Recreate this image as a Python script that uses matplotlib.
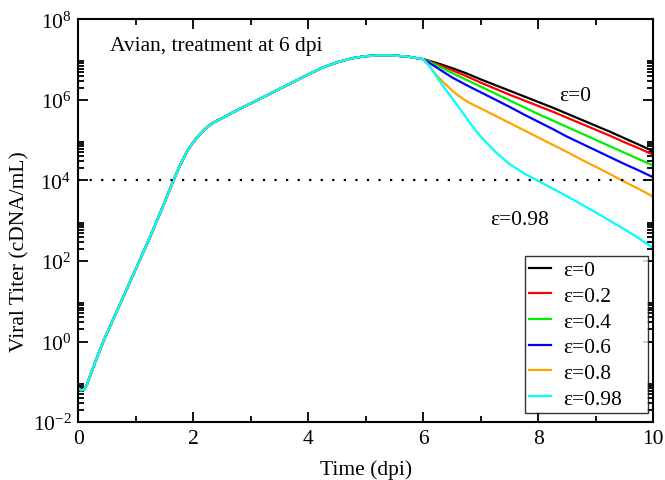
#!/usr/bin/env python3
"""
Viral titer vs time, avian model, antiviral treatment started at 6 dpi.
One shared growth curve up to 6 dpi, then one branch per efficacy eps.
"""

import numpy as np
import matplotlib
matplotlib.use("Agg")
import matplotlib.pyplot as plt
from matplotlib.ticker import FixedLocator, NullFormatter

# ==============================
# Data (log10 titer)
# ==============================
t_pre = [0.0, 0.05, 0.1, 0.15, 0.2, 0.3, 0.435, 0.6, 0.78, 1.0, 1.25, 1.5,
         1.65, 1.75, 1.83, 1.9, 2.0, 2.1, 2.2, 2.32, 2.52, 2.81, 3.0, 3.28,
         3.5, 3.75, 4.0, 4.25, 4.5, 4.75, 5.0, 5.25, 5.5, 5.75, 6.0]
log_pre = [-1.16, -1.21, -1.19, -1.07, -0.87, -0.49, 0.0, 0.53, 1.10, 1.80,
           2.60, 3.45, 3.98, 4.31, 4.55, 4.74, 4.95, 5.12, 5.27, 5.41, 5.56,
           5.78, 5.91, 6.11, 6.27, 6.45, 6.63, 6.80, 6.93, 7.03, 7.085,
           7.105, 7.10, 7.07, 7.01]

t_post = [6.0, 6.25, 6.5, 6.75, 7.0, 7.25, 7.5, 7.75, 8.0, 8.25, 8.5, 8.75,
          9.0, 9.25, 9.5, 9.75, 10.0]
log_eps0 = [7.01, 6.91, 6.79, 6.66, 6.51, 6.37, 6.23, 6.09, 5.95, 5.81,
            5.66, 5.51, 5.36, 5.21, 5.05, 4.89, 4.73]
log_eps02 = [7.01, 6.88, 6.74, 6.59, 6.43, 6.28, 6.13, 5.99, 5.85, 5.71,
             5.56, 5.41, 5.26, 5.11, 4.95, 4.80, 4.64]
log_eps04 = [7.01, 6.85, 6.67, 6.50, 6.33, 6.16, 5.99, 5.82, 5.65, 5.49,
             5.33, 5.17, 5.01, 4.85, 4.69, 4.53, 4.37]
log_eps06 = [7.01, 6.79, 6.56, 6.37, 6.19, 6.01, 5.83, 5.64, 5.46, 5.28,
             5.09, 4.92, 4.75, 4.58, 4.41, 4.25, 4.08]

t_post_fine = [6.0, 6.1, 6.2, 6.3, 6.4, 6.5, 6.6, 6.7, 6.8, 6.9, 7.0, 7.25,
               7.5, 7.75, 8.0, 8.25, 8.5, 8.75, 9.0, 9.25, 9.5, 9.75, 10.0]
log_eps08 = [7.01, 6.85, 6.67, 6.51, 6.37, 6.24, 6.12, 6.02, 5.93, 5.86,
             5.79, 5.61, 5.43, 5.25, 5.07, 4.89, 4.71, 4.52, 4.34, 4.16,
             3.97, 3.79, 3.60]
log_eps098 = [7.01, 6.86, 6.65, 6.44, 6.24, 6.05, 5.86, 5.66, 5.46, 5.27,
              5.09, 4.72, 4.41, 4.18, 3.99, 3.80, 3.61, 3.41, 3.21, 3.00,
              2.79, 2.57, 2.33]

eps_labels = ["ε=0", "ε=0.2", "ε=0.4", "ε=0.6", "ε=0.8", "ε=0.98"]
eps_colors = ["black", "#ff0000", "#00ee00", "#0000ff", "#ffa500", "#00ffff"]

threshold = 1e4

# ==============================
# Style
# ==============================
plt.rcParams.update({
    "font.family": ["Liberation Serif", "DejaVu Serif"],
    "mathtext.fontset": "custom",
    "mathtext.rm": "Liberation Serif",
    "font.size": 15.5,
    "axes.linewidth": 1.5,
})


def main():
    fig = plt.figure(figsize=(6.65, 4.81), dpi=100)
    ax = fig.add_axes([0.1177, 0.1202, 0.8643, 0.8376])

    branches = [
        (t_post, log_eps0),
        (t_post, log_eps02),
        (t_post, log_eps04),
        (t_post, log_eps06),
        (t_post_fine, log_eps08),
        (t_post_fine, log_eps098),
    ]

    for (tb, lb), lab, col in zip(branches, eps_labels, eps_colors):
        t_all = np.concatenate([t_pre, tb[1:]])
        y_all = 10.0 ** np.concatenate([log_pre, lb[1:]])
        ax.plot(t_all, y_all, color=col, lw=1.6, label=lab,
                solid_joinstyle="round")

    ax.axhline(threshold, color="black", lw=1.6, linestyle=(0, (1, 4.2)))

    ax.set_yscale("log")
    ax.set_xlim(0, 10)
    ax.set_ylim(1e-2, 1e8)

    # ticks like the original: majors every 2 decades, minors 2..9 x major
    majors = [10.0 ** k for k in range(-2, 9, 2)]
    minors = [m * 10.0 ** k for k in range(-2, 8, 2) for m in range(2, 10)]
    ax.yaxis.set_major_locator(FixedLocator(majors))
    ax.yaxis.set_minor_locator(FixedLocator(minors))
    ax.yaxis.set_minor_formatter(NullFormatter())
    ax.set_yticklabels([r"$\mathdefault{10^{%d}}$" % k for k in range(-2, 9, 2)])

    ax.set_xticks([0, 2, 4, 6, 8, 10])
    ax.set_xticks([1, 3, 5, 7, 9], minor=True)

    ax.tick_params(which="both", direction="in", top=True, right=True,
                   width=1.3)
    ax.tick_params(which="major", length=7.5, pad=5)
    ax.tick_params(which="minor", length=4)

    ax.set_xlabel("Time (dpi)", labelpad=8)
    ax.set_ylabel("Viral Titer (cDNA/mL)")
    ax.yaxis.set_label_coords(-0.085, 0.427)

    ax.text(0.055, 0.934, "Avian, treatment at 6 dpi", transform=ax.transAxes,
            ha="left", va="center")
    ax.text(0.864, 0.81, "ε=0", transform=ax.transAxes,
            ha="center", va="center")
    ax.text(0.768, 0.502, "ε=0.98", transform=ax.transAxes,
            ha="center", va="center")

    leg = ax.legend(loc="lower right",
                    bbox_to_anchor=(0.777, 0.0228, 0.214, 0.392),
                    mode="expand", borderaxespad=0.0, frameon=True,
                    fancybox=False, edgecolor="black", handlelength=1.0,
                    handletextpad=0.6, labelspacing=0.26, borderpad=0.2,
                    fontsize=15.5)
    leg.get_frame().set_linewidth(1.0)

    fig.savefig("out.png", dpi=100)
    plt.close(fig)


if __name__ == "__main__":
    main()
